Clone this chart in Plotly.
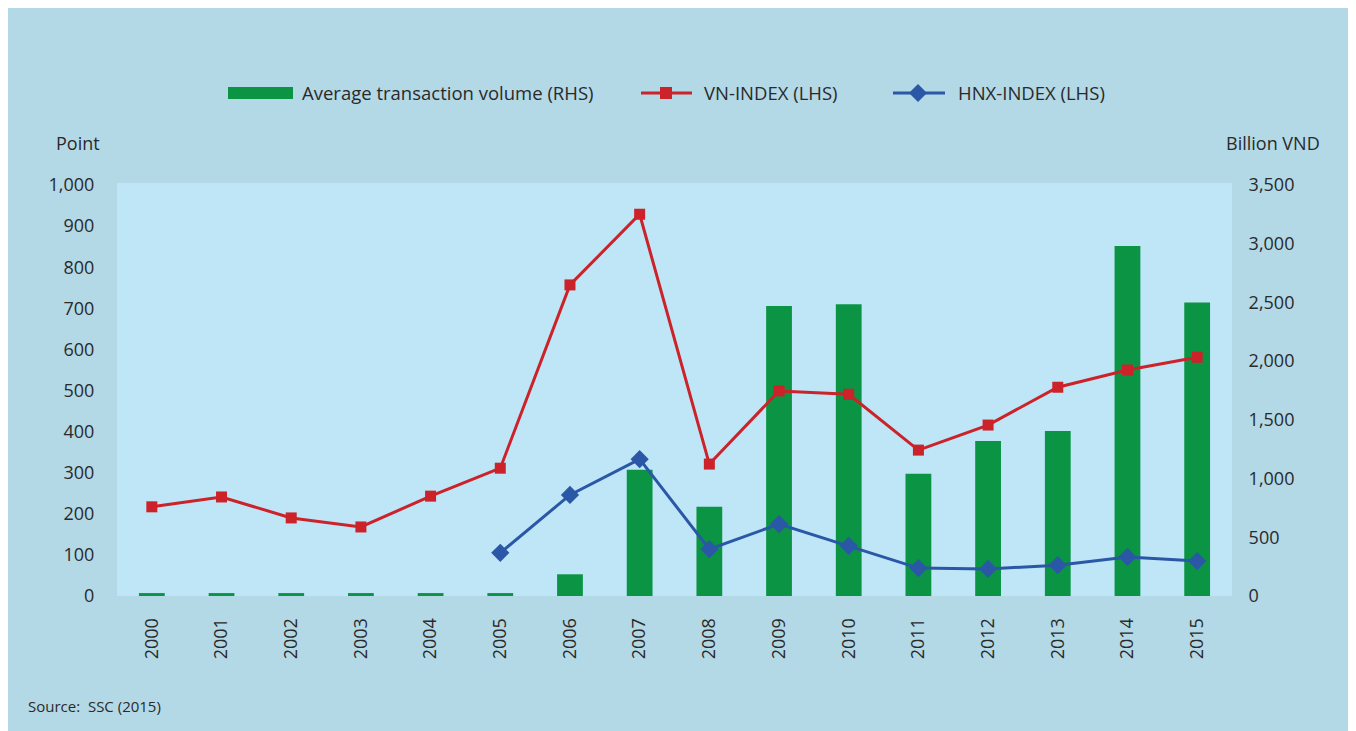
import plotly.graph_objects as go

years = [str(y) for y in range(2000, 2016)]
volume = [25, 25, 25, 25, 25, 25, 185, 1075, 760, 2470, 2485, 1040, 1320, 1405, 2980, 2500]
vn_index = [217, 241, 190, 168, 243, 311, 757, 929, 321, 499, 491, 355, 416, 508, 550, 581]
hnx_index = [None, None, None, None, None, 105, 246, 333, 114, 175, 122, 68, 66, 75, 95, 85]
left_ticks = [0, 100, 200, 300, 400, 500, 600, 700, 800, 900, 1000]
right_ticks = [0, 500, 1000, 1500, 2000, 2500, 3000, 3500]

GREEN = "#0b9444"
RED = "#cc2229"
BLUE = "#2b57a7"
PANEL = "#b3d8e6"
PLOTBG = "#bee6f7"
TXT = "#2a2a2a"
FONT = "Open Sans"

OFF = 8  # page body margin
W, H = 1364, 731
L, R, T, B = 117 - OFF, 1232 - OFF, 183 - OFF, 596 - OFF


def px(x):
    return (x - OFF - L) / (R - L)


def py(y):
    return (B - (y - OFF)) / (B - T)


fig = go.Figure()
fig.add_trace(go.Bar(x=years, y=volume, marker=dict(color=GREEN, line=dict(width=0)),
                     width=0.37, yaxis="y", showlegend=False, name="Average transaction volume (RHS)"))
fig.add_trace(go.Scatter(x=years, y=vn_index, mode="lines+markers", yaxis="y2",
                         line=dict(color=RED, width=3),
                         marker=dict(symbol="square", size=11, color=RED),
                         showlegend=False, name="VN-INDEX (LHS)", cliponaxis=False))
fig.add_trace(go.Scatter(x=years, y=hnx_index, mode="lines+markers", yaxis="y2",
                         line=dict(color=BLUE, width=3),
                         marker=dict(symbol="diamond", size=14, color=BLUE),
                         showlegend=False, name="HNX-INDEX (LHS)", cliponaxis=False))

shapes = []
# custom legend
ly = 93
shapes.append(dict(type="rect", xref="paper", yref="paper", x0=px(228), x1=px(293), y0=py(99), y1=py(87),
                   fillcolor=GREEN, line=dict(width=0)))
shapes.append(dict(type="line", xref="paper", yref="paper", x0=px(641), x1=px(692), y0=py(ly), y1=py(ly),
                   line=dict(color=RED, width=3)))
shapes.append(dict(type="rect", xref="paper", yref="paper", x0=px(660), x1=px(672), y0=py(ly + 6), y1=py(ly - 6),
                   fillcolor=RED, line=dict(width=0)))
shapes.append(dict(type="line", xref="paper", yref="paper", x0=px(893), x1=px(945), y0=py(ly), y1=py(ly),
                   line=dict(color=BLUE, width=3)))
cx, d = 918, 9
shapes.append(dict(type="path", xref="paper", yref="paper",
                   path=f"M {px(cx - d)},{py(ly)} L {px(cx)},{py(ly - d)} L {px(cx + d)},{py(ly)} L {px(cx)},{py(ly + d)} Z",
                   fillcolor=BLUE, line=dict(width=0)))

annotations = [
    dict(text="Average transaction volume (RHS)", x=px(300), y=py(ly), xref="paper", yref="paper",
         xanchor="left", yanchor="middle", showarrow=False, font=dict(size=18.5, color=TXT, family=FONT)),
    dict(text="VN-INDEX (LHS)", x=px(702), y=py(ly), xref="paper", yref="paper",
         xanchor="left", yanchor="middle", showarrow=False, font=dict(size=18.5, color=TXT, family=FONT)),
    dict(text="HNX-INDEX (LHS)", x=px(956), y=py(ly), xref="paper", yref="paper",
         xanchor="left", yanchor="middle", showarrow=False, font=dict(size=18.5, color=TXT, family=FONT)),
    dict(text="Point", x=px(54), y=py(143), xref="paper", yref="paper",
         xanchor="left", yanchor="middle", showarrow=False, font=dict(size=18, color=TXT, family=FONT)),
    dict(text="Billion VND", x=px(1322), y=py(143), xref="paper", yref="paper",
         xanchor="right", yanchor="middle", showarrow=False, font=dict(size=18, color=TXT, family=FONT)),
    dict(text="Source:  SSC (2015)", x=px(26), y=py(706), xref="paper", yref="paper",
         xanchor="left", yanchor="middle", showarrow=False, font=dict(size=15, color=TXT, family=FONT)),
]

fig.update_layout(
    width=W, height=H,
    margin=dict(l=L, r=W - R, t=T, b=H - B, pad=0),
    paper_bgcolor=PANEL, plot_bgcolor=PLOTBG,
    font=dict(family=FONT, size=18, color=TXT),
    showlegend=False,
    bargap=0.63,
    xaxis=dict(type="category", range=[-0.5, 15.5], showgrid=False, zeroline=False, showline=False,
               tickangle=-90, ticks="outside", ticklen=14, tickcolor="rgba(0,0,0,0)",
               tickfont=dict(size=18, color=TXT, family=FONT)),
    yaxis=dict(side="right", range=[0, 3517], tickvals=right_ticks,
               ticktext=[f"{v:,}" for v in right_ticks], showgrid=False, zeroline=False, showline=False,
               ticks="outside", ticklen=12, tickcolor="rgba(0,0,0,0)",
               tickfont=dict(size=18, color=TXT, family=FONT)),
    yaxis2=dict(side="left", overlaying="y", range=[0, 1005], tickvals=left_ticks,
                ticktext=[f"{v:,}" for v in left_ticks], showgrid=False, zeroline=False, showline=False,
                ticks="outside", ticklen=18, tickcolor="rgba(0,0,0,0)",
                tickfont=dict(size=18, color=TXT, family=FONT)),
    shapes=shapes, annotations=annotations,
)

fig.write_html("out.html")
